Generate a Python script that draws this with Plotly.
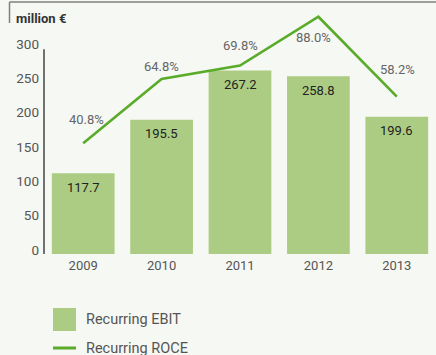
import plotly.graph_objects as go

# Figures for 2009-2013
years = ["2009", "2010", "2011", "2012", "2013"]
recurring_ebit = [117.7, 195.5, 267.2, 258.8, 199.6]   # million €
recurring_roce = [40.8, 64.8, 69.8, 88.0, 58.2]        # percent
y_ticks = [0, 50, 100, 150, 200, 250, 300]

FONT = "Roboto, sans-serif"
BAR = "#abcc82"
LINE = "#5aab2a"
BG = "#f6f8f3"

W, H = 436, 355
ML, MR, MT, MB = 44, 0, 10, 101
PW, PH = W - ML - MR, H - MT - MB


def px(x):
    return (x - ML) / PW


def py(y):
    return (H - MB - y) / PH


fig = go.Figure()
fig.add_trace(go.Bar(
    x=years, y=recurring_ebit, marker_color=BAR, marker_line_width=0,
    name="Recurring EBIT", showlegend=False,
))
fig.add_trace(go.Scatter(
    x=years, y=recurring_roce, yaxis="y2", mode="lines",
    line=dict(color=LINE, width=2.6), name="Recurring ROCE", showlegend=False,
))

annotations = []
# value labels inside the bars (x given as category index)
for i, v in enumerate(recurring_ebit):
    annotations.append(dict(
        x=i, y=v, xref="x", yref="y", text=f"{v:.1f}", showarrow=False,
        yanchor="middle", yshift=-14, font=dict(family=FONT, size=13, color="#222222"),
    ))
# ROCE labels
roce_shift = [(3, 24), (0, 12), (0, 20), (-5, -21), (1, 27)]
for i, (v, (dx, dy)) in enumerate(zip(recurring_roce, roce_shift)):
    annotations.append(dict(
        x=i, y=v, xref="x", yref="y2", text=f"{v:.1f}%", showarrow=False,
        yanchor="middle", xshift=dx, yshift=dy,
        font=dict(family=FONT, size=13, color="#666666"),
    ))
# unit label
annotations.append(dict(
    x=px(15), y=py(19), xref="paper", yref="paper", text="<b>million €</b>",
    showarrow=False, xanchor="left", yanchor="middle", xshift=-1,
    font=dict(family=FONT, size=13, color="#333333"),
))
# legend texts
for label, yc in [("Recurring EBIT", 319), ("Recurring ROCE", 348)]:
    annotations.append(dict(
        x=px(86), y=py(yc), xref="paper", yref="paper", text=label,
        showarrow=False, xanchor="left", yanchor="middle", xshift=-2,
        font=dict(family=FONT, size=14.5, color="#555555"),
    ))

shapes = [
    # frame at top left
    dict(type="line", xref="paper", yref="paper", x0=px(9.5), x1=px(437),
         y0=py(2), y1=py(2), line=dict(color="#808080", width=1.5)),
    dict(type="line", xref="paper", yref="paper", x0=px(9.5), x1=px(9.5),
         y0=py(2), y1=py(23), line=dict(color="#808080", width=1.5)),
    # value axis line
    dict(type="line", xref="paper", yref="y", x0=0, x1=0, y0=0, y1=298,
         line=dict(color="#444444", width=1.5)),
    # legend keys
    dict(type="rect", xref="paper", yref="paper", x0=px(53), x1=px(76),
         y0=py(331), y1=py(308), fillcolor=BAR, line_width=0),
    dict(type="line", xref="paper", yref="paper", x0=px(53), x1=px(76),
         y0=py(348), y1=py(348), line=dict(color=LINE, width=3)),
]

px_per_unit = 0.687
px_per_pct = 2.682
fig.update_layout(
    width=W, height=H, margin=dict(l=ML, r=MR, t=MT, b=MB),
    paper_bgcolor=BG, plot_bgcolor=BG,
    bargap=0.2, showlegend=False,
    font=dict(family=FONT, size=13, color="#555555"),
    xaxis=dict(type="category", range=[-0.5, len(years) - 0.5], showline=False,
               showgrid=False, zeroline=False, ticks="", ticklabelstandoff=2,
               tickfont=dict(size=13, color="#555555")),
    yaxis=dict(range=[0, PH / px_per_unit], tickvals=y_ticks, showgrid=False,
               zeroline=False, showline=False, ticks="", ticklabelshift=-4,
               ticklabelstandoff=4, tickfont=dict(size=13.5, color="#555555")),
    yaxis2=dict(range=[-0.47, -0.47 + PH / px_per_pct], overlaying="y",
                visible=False),
    annotations=annotations, shapes=shapes,
)

fig.write_html("out.html")
